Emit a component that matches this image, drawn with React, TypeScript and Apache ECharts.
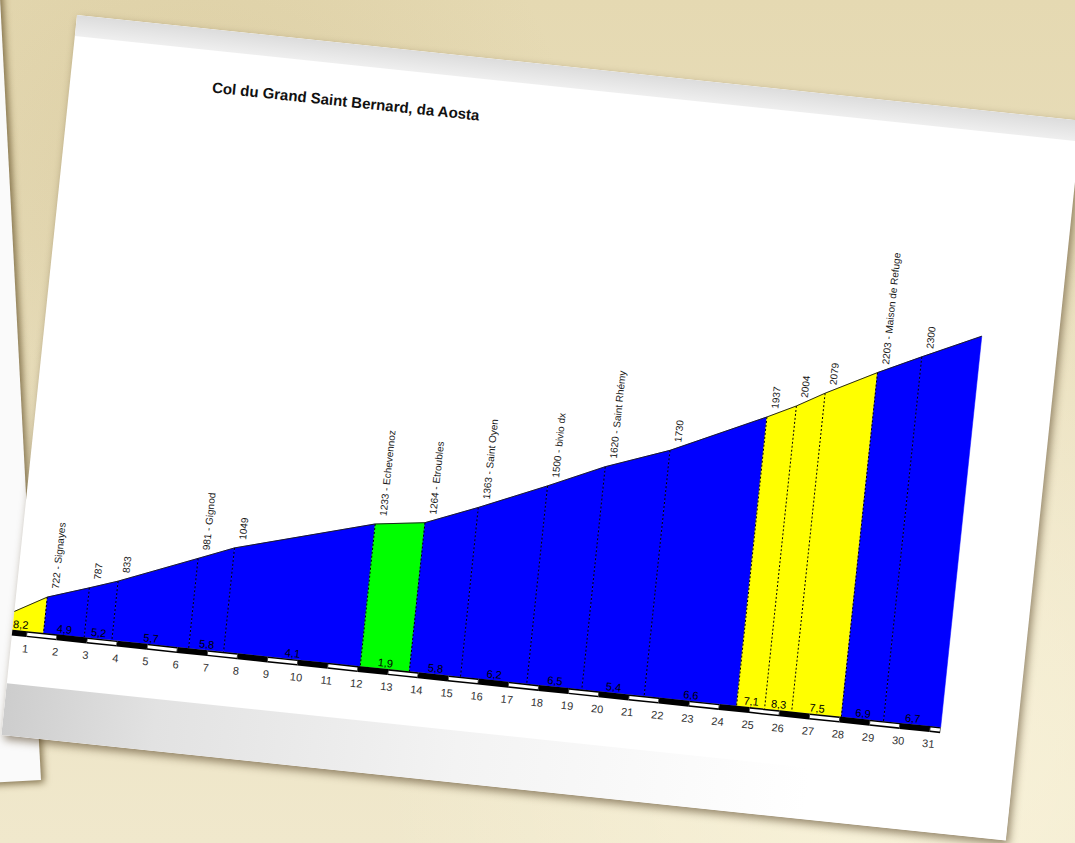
import React, { useEffect, useRef } from "react";
import * as echarts from "echarts";

const TITLE = "Col du Grand Saint Bernard, da Aosta";

// distance (km) of every point of the profile
const stopKm = [0, 1.55, 2.9, 3.82, 6.37, 7.53, 12.07, 13.7, 15.4, 17.6, 19.43, 21.5, 24.57, 25.5, 26.4, 28.05, 29.45, 31.35];
// altitude (m) of every point
const stopAltitude = [595, 722, 787, 833, 981, 1049, 1233, 1264, 1363, 1500, 1620, 1730, 1937, 2004, 2079, 2203, 2300, 2428];
// place names written after the altitude
const stopName = ["", "Signayes", "", "", "Gignod", "", "Echevennoz", "Etroubles", "Saint Oyen", "bivio dx", "Saint Rhémy", "", "", "", "", "Maison de Refuge", "", ""];
// which points carry a vertical label
const stopLabelled = [false, true, true, true, true, true, true, true, true, true, true, true, true, true, true, true, true, false];
// average gradient (%) of every section
const sectionGradient = ["8,2", "4,9", "5,2", "5,7", "5,8", "4,1", "1,9", "5,8", "6,2", "6,5", "5,4", "6,6", "7,1", "8,3", "7,5", "6,9", "6,7"];

const Y_MIN = 550;
const Y_MAX = 2800;
const FONT = "'Liberation Sans', Arial, Helvetica, sans-serif";

function gradientColor(g: string): string {
  const v = parseFloat(g.replace(",", "."));
  if (v < 4) return "#00ff00";
  if (v < 7) return "#0000ff";
  return "#ffff00";
}

const KM_END = stopKm[stopKm.length - 1];

export default function App() {
  const ref = useRef<HTMLDivElement>(null);

  useEffect(() => {
    if (!ref.current) return;
    const chart = echarts.init(ref.current, null, { renderer: "svg" });

    const sectionData = sectionGradient.map((g, i) => [stopKm[i], stopAltitude[i], stopKm[i + 1], stopAltitude[i + 1], i]);
    const barData: number[][] = [];
    for (let k = 0; k < KM_END; k++) {
      barData.push([k, Math.min(k + 1, KM_END)]);
    }

    const option: any = {
      animation: false,
      title: {
        text: TITLE,
        left: 183,
        top: 50,
        padding: 0,
        textStyle: { fontSize: 15, fontWeight: "bold", fontFamily: FONT, color: "#111" },
      },
      grid: { left: 25.4, right: 75.6, top: 147, bottom: 106 },
      xAxis: {
        type: "value",
        min: 0,
        max: KM_END,
        interval: 1,
        axisLine: { show: false },
        axisTick: { show: false },
        splitLine: { show: false },
        axisLabel: {
          margin: 12,
          fontSize: 11,
          color: "#333",
          fontFamily: FONT,
          hideOverlap: false,
          formatter: (v: number) => (v === 0 || Math.abs(v - Math.round(v)) > 1e-6 ? "" : String(Math.round(v))),
        },
      },
      yAxis: { type: "value", min: Y_MIN, max: Y_MAX, show: false },
      series: [
        {
          type: "custom",
          data: sectionData,
          renderItem: (params: any, api: any) => {
            const i = api.value(4);
            const p0 = api.coord([api.value(0), api.value(1)]);
            const p1 = api.coord([api.value(2), api.value(3)]);
            const b0 = api.coord([api.value(0), Y_MIN]);
            const b1 = api.coord([api.value(2), Y_MIN]);
            const g = sectionGradient[i];
            const children: any[] = [
              {
                type: "polygon",
                shape: { points: [b0, p0, p1, b1] },
                style: { fill: gradientColor(g), stroke: gradientColor(g), lineWidth: 0.5 },
                z2: 1,
              },
              {
                type: "line",
                shape: { x1: p0[0], y1: p0[1], x2: p1[0], y2: p1[1] },
                style: { stroke: "#1a1a1a", lineWidth: 0.9 },
                z2: 5,
              },
              {
                type: "text",
                x: (b0[0] + b1[0]) / 2,
                y: b0[1] - 0.5,
                style: { text: g, align: "center", verticalAlign: "bottom", fontSize: 11, fontFamily: FONT, fill: "#000" },
                z2: 6,
              },
            ];
            if (i < sectionGradient.length - 1) {
              children.push({
                type: "line",
                shape: { x1: p1[0], y1: p1[1], x2: b1[0], y2: b1[1] },
                style: { stroke: "#000", lineWidth: 1, lineDash: [2, 2] },
                z2: 4,
              });
            }
            const j = i + 1;
            if (stopLabelled[j]) {
              const label = stopName[j] ? `${stopAltitude[j]} - ${stopName[j]}` : `${stopAltitude[j]}`;
              children.push({
                type: "text",
                x: p1[0] + 2,
                y: p1[1] - 9,
                rotation: Math.PI / 2,
                style: { text: label, align: "left", verticalAlign: "top", fontSize: 10, fontFamily: FONT, fill: "#1a1a1a" },
                z2: 7,
              });
            }
            return { type: "group", children };
          },
          z: 2,
        },
        {
          type: "custom",
          data: barData,
          renderItem: (params: any, api: any) => {
            const a = api.coord([api.value(0), Y_MIN]);
            const b = api.coord([api.value(1), Y_MIN]);
            const k = api.value(0);
            const children: any[] = [
              { type: "rect", shape: { x: a[0], y: a[1], width: b[0] - a[0], height: 6 }, style: { fill: "#000" } },
            ];
            if (k % 2 === 1) {
              children.push({
                type: "rect",
                shape: { x: a[0] + 0.5, y: a[1] + 1.5, width: b[0] - a[0] - 1, height: 3 },
                style: { fill: "#fff" },
              });
            }
            return { type: "group", children };
          },
          z: 3,
        },
      ],
    };

    chart.setOption(option);
    return () => chart.dispose();
  }, []);

  return (
    <div
      style={{
        position: "fixed",
        left: 0,
        top: 0,
        width: 1075,
        height: 843,
        overflow: "hidden",
        background:
          "radial-gradient(circle at 18% 22%, rgba(190,170,115,0.25), rgba(0,0,0,0) 35%), radial-gradient(circle at 85% 90%, rgba(255,250,228,0.6), rgba(0,0,0,0) 45%), linear-gradient(180deg, #e5d9b2 0%, #ebe1c1 55%, #f0e8cc 100%)",
      }}
    >
      <div
        style={{
          position: "absolute",
          left: -559,
          top: -120,
          width: 600,
          height: 900,
          transformOrigin: "100% 100%",
          transform: "rotate(-3deg)",
          background: "#fafafa",
          boxShadow: "3px 3px 7px rgba(80,60,20,0.65)",
        }}
      />
      <div
        style={{
          position: "absolute",
          left: 77,
          top: 15,
          width: 1010,
          height: 724,
          transformOrigin: "0 0",
          transform: "rotate(6deg)",
          background: "#ffffff",
          boxShadow: "3px 4px 8px rgba(70,50,20,0.55)",
          overflow: "hidden",
        }}
      >
        <div
          style={{
            position: "absolute",
            left: 0,
            top: 0,
            width: 1010,
            height: 21,
            background: "linear-gradient(180deg, #dcdcdc 0%, #efefef 100%)",
          }}
        />
        <div
          style={{
            position: "absolute",
            left: 0,
            top: 672,
            width: 1010,
            height: 52,
            background: "linear-gradient(90deg, #cdcdcd 0%, #e2e2e2 15%, #f3f3f3 45%, #ffffff 80%)",
          }}
        />
        <div ref={ref} style={{ position: "absolute", left: -41, top: 0, width: 1050, height: 724 }} />
      </div>
    </div>
  );
}
